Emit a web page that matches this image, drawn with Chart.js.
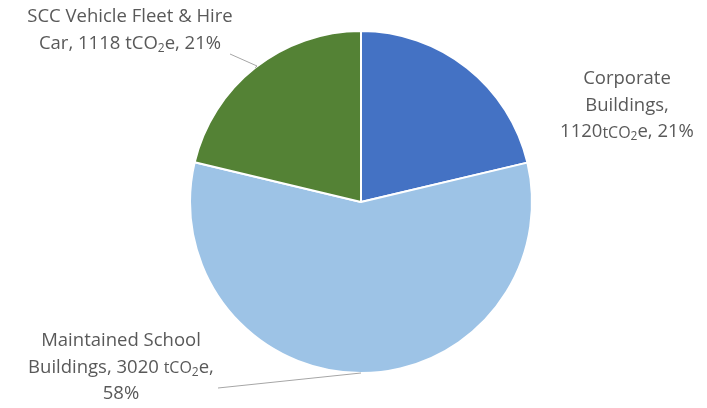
<!DOCTYPE html>
<html>
<head>
<meta charset="utf-8">
<script src="https://cdn.jsdelivr.net/npm/chart.js@4"></script>
<style>
  html, body { margin: 0; padding: 0; background: #fff; }
  #wrap { width: 707px; height: 408px; position: relative; }
</style>
</head>
<body>
<div id="wrap"><canvas id="chart"></canvas></div>
<script>
const categories = ['Corporate Buildings', 'Maintained School Buildings', 'SCC Vehicle Fleet & Hire Car'];
const emissions = [1120, 3020, 1118];
const shares = ['21%', '58%', '21%'];
const colors = ['#4472C4', '#9DC3E6', '#548235'];

// label text lines; segments: [text, kind]
const labelLines = [
  [
    [['Corporate']],
    [['Buildings,']],
    [[String(emissions[0])], ['tCO', 'small'], ['2', 'sub'], ['e, ' + shares[0]]]
  ],
  [
    [['Maintained School']],
    [['Buildings, ' + emissions[1] + ' '], ['tCO', 'small'], ['2', 'sub'], ['e,']],
    [[shares[1]]]
  ],
  [
    [['SCC Vehicle Fleet & Hire']],
    [['Car, ' + emissions[2] + ' tCO'], ['2', 'sub'], ['e, ' + shares[2]]]
  ]
];
// label anchor (centre of first line) and leader start
const labelPos = [
  { x: 627, y: 79, leader: null },
  { x: 121, y: 341, leader: { from: [218, 388], ang: Math.PI / 2 } },
  { x: 130, y: 17, leader: { from: [230, 54], via: [257, 66] } }
];

const FONT = '"Open Sans", "Liberation Sans", sans-serif';

function segFont(kind) {
  if (kind === 'sub') return '12px ' + FONT;
  if (kind === 'small') return '16px ' + FONT;
  return '18.5px ' + FONT;
}

const labelPlugin = {
  id: 'labels',
  afterDatasetsDraw(chart) {
    const ctx = chart.ctx;
    const arcs = chart.getDatasetMeta(0).data;
    ctx.save();
    ctx.strokeStyle = '#A6A6A6';
    ctx.lineWidth = 1;
    labelPos.forEach((p, i) => {
      if (!p.leader) return;
      const a = arcs[i];
      const ang = p.leader.ang !== undefined ? p.leader.ang : (a.startAngle + a.endAngle) / 2;
      const ex = a.x + Math.cos(ang) * a.outerRadius;
      const ey = a.y + Math.sin(ang) * a.outerRadius;
      ctx.beginPath();
      ctx.moveTo(p.leader.from[0], p.leader.from[1]);
      if (p.leader.via) ctx.lineTo(p.leader.via[0], p.leader.via[1]);
      ctx.lineTo(ex, ey);
      ctx.stroke();
    });
    ctx.fillStyle = '#595959';
    ctx.textBaseline = 'middle';
    ctx.textAlign = 'left';
    labelLines.forEach((lines, i) => {
      const p = labelPos[i];
      lines.forEach((segs, li) => {
        const y = p.y + li * 26.5;
        let w = 0;
        segs.forEach(s => { ctx.font = segFont(s[1]); w += ctx.measureText(s[0]).width; });
        let x = p.x - w / 2;
        segs.forEach(s => {
          ctx.font = segFont(s[1]);
          const dy = s[1] === 'sub' ? 5 : (s[1] === 'small' ? 1 : 0);
          ctx.fillText(s[0], x, y + dy);
          x += ctx.measureText(s[0]).width;
        });
      });
    });
    ctx.restore();
  }
};

new Chart(document.getElementById('chart'), {
  type: 'pie',
  data: {
    labels: categories,
    datasets: [{
      data: emissions,
      backgroundColor: colors,
      borderColor: '#ffffff',
      borderWidth: 2
    }]
  },
  options: {
    responsive: true,
    maintainAspectRatio: false,
    animation: false,
    layout: { padding: { top: 30, bottom: 34, left: 15, right: 0 } },
    plugins: { legend: { display: false }, tooltip: { enabled: false } }
  },
  plugins: [labelPlugin]
});
</script>
</body>
</html>
